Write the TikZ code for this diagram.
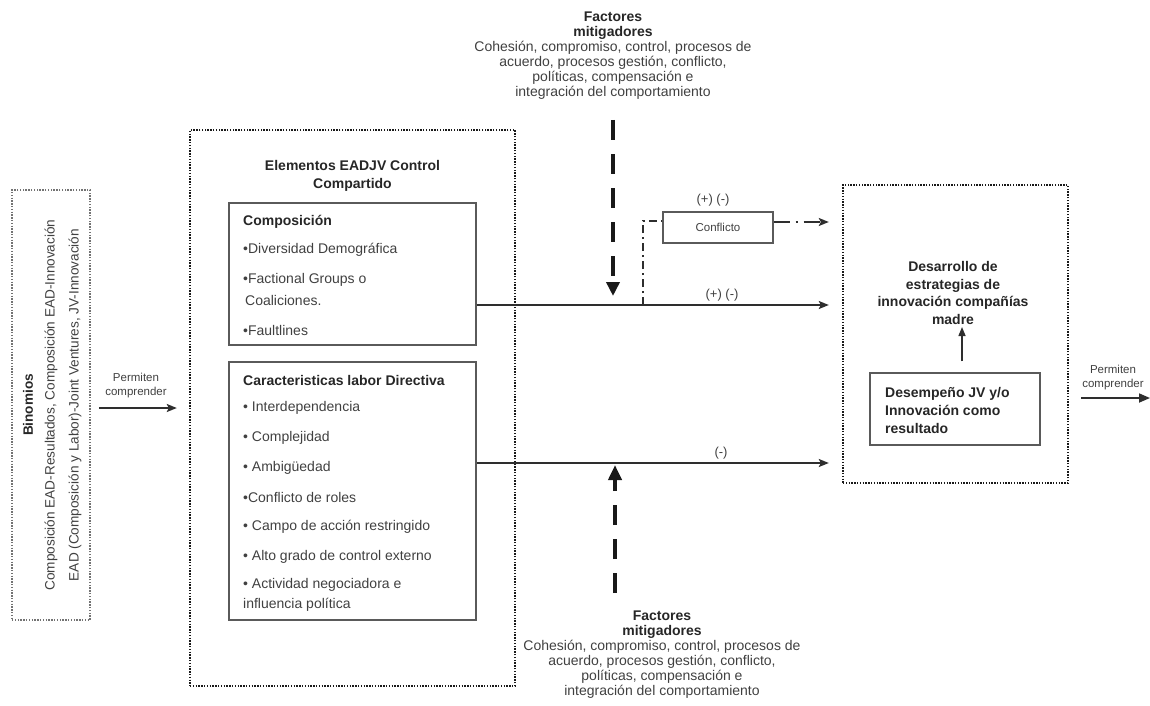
\documentclass[tikz,border=0pt]{standalone}
\usepackage{fontspec}
\setmainfont{Liberation Sans}
\usetikzlibrary{arrows.meta}
\definecolor{txt}{HTML}{404040}
\definecolor{hdc}{HTML}{262626}
\definecolor{boxc}{HTML}{5A5A5A}
\definecolor{linec}{HTML}{2E2E2E}
\begin{document}
\begin{tikzpicture}[x=1pt,y=-1pt,
  every node/.style={text=txt, inner sep=0pt, font=\fontsize{14}{15}\selectfont},
  dotbox/.style={draw=black!90, line width=2.4pt, dash pattern=on 1.4pt off 1.4pt},
  dotboxl/.style={draw=black!55, line width=1.8pt, dash pattern=on 1.4pt off 1.4pt},
  solidbox/.style={draw=boxc, line width=1.4pt},
  conn/.style={draw=linec, line width=1.7pt},
  tipa/.style={-{Stealth[length=10pt,width=8pt,inset=2pt]}},
  tipb/.style={-{Triangle[length=11pt,width=9pt]}},
  mitarrow/.style={draw=black!90, line width=4.5pt, dash pattern=on 20pt off 14pt},
  dashdot/.style={draw=linec, line width=1.6pt, dash pattern=on 8pt off 4pt on 2pt off 4pt},
  dashdotb/.style={draw=linec, line width=1.6pt, dash pattern=on 16pt off 6pt on 2pt off 6pt},
  item/.style={anchor=west},
  hd/.style={font=\bfseries\fontsize{14}{15}\selectfont, text=hdc},
  small/.style={font=\fontsize{11.5}{14}\selectfont},
  sign/.style={font=\fontsize{13}{15}\selectfont}
]
\useasboundingbox (0,0) rectangle (1150,706);

% ---- boxes ----
\node[dotboxl, minimum width=78, minimum height=430] (bin) at (51,405) {};
\node[dotbox, minimum width=325, minimum height=556] (mid) at (352.5,408) {};
\node[solidbox, minimum width=247, minimum height=142] (comp) at (352.5,274) {};
\node[solidbox, minimum width=247, minimum height=258] (carac) at (352.5,491) {};
\node[dotbox, minimum width=225, minimum height=298] (rbox) at (955.5,334) {};
\node[solidbox, minimum width=170, minimum height=72] (desemp) at (955,409) {};
\node[solidbox, minimum width=110, minimum height=31] (conf) at (718,227.5) {};

% ---- Binomios text ----
\node[hd, rotate=90, font=\bfseries\fontsize{13.6}{15}\selectfont] (binT) at (28,405) {Binomios};
\node[rotate=90, font=\fontsize{13.6}{15}\selectfont] (binA) at (51,405) {Composición EAD-Resultados, Composición EAD-Innovación};
\node[rotate=90, font=\fontsize{13.6}{15}\selectfont] (binB) at (75,405) {EAD (Composición y Labor)-Joint Ventures, JV-Innovación};

% ---- middle title ----
\node[hd, align=center, font=\bfseries\fontsize{14}{18}\selectfont] (midT) at (352.5,176) {Elementos EADJV Control\\Compartido};

% ---- Composicion ----
\node[hd, item] (c0) at (243,222) {Composición};
\node[item] (c1) at (243,250) {•Diversidad Demográfica};
\node[item] (c2) at (243,280) {•Factional Groups o};
\node[item] (c3) at (245,300) {Coaliciones.};
\node[item] (c4) at (243,330) {•Faultlines};

% ---- Caracteristicas ----
\node[hd, item] (k0) at (243,380) {Caracteristicas labor Directiva};
\node[item] (k1) at (243,408) {• Interdependencia};
\node[item] (k2) at (243,438) {• Complejidad};
\node[item] (k3) at (243,468) {• Ambigüedad};
\node[item] (k4) at (243,497) {•Conflicto de roles};
\node[item] (k5) at (243,527) {• Campo de acción restringido};
\node[item] (k6) at (243,557) {• Alto grado de control externo};
\node[item] (k7) at (243,585) {• Actividad negociadora e};
\node[item] (k8) at (243,605) {influencia política};

% ---- mitigating factors ----
\node[align=center] (mtop) at (613,56) {\textbf{\color{hdc}Factores}\\\textbf{\color{hdc}mitigadores}\\Cohesión, compromiso, control, procesos de\\acuerdo, procesos gestión, conflicto,\\políticas, compensación e\\integración del comportamiento};
\node[align=center] (mbot) at (662,655) {\textbf{\color{hdc}Factores}\\\textbf{\color{hdc}mitigadores}\\Cohesión, compromiso, control, procesos de\\acuerdo, procesos gestión, conflicto,\\políticas, compensación e\\integración del comportamiento};

% ---- right box text ----
\node[hd, align=center, font=\bfseries\fontsize{14}{17.7}\selectfont] (desT) at (953,293) {Desarrollo de\\estrategias de\\innovación compañías\\madre};
\node[hd, align=left, anchor=west, font=\bfseries\fontsize{14}{18}\selectfont] (desempT) at (885,410) {Desempeño JV y/o\\Innovación como\\resultado};

% ---- small labels ----
\node[small, align=center] (permL) at (136,385.5) {Permiten\\comprender};
\node[small, align=center] (permR) at (1113,377.5) {Permiten\\comprender};
\node[font=\fontsize{11.5}{14}\selectfont] (confT) at (718,227.5) {Conflicto};
\node[sign] (s1) at (713,200) {(+) (-)};
\node[sign] (s2) at (722,295) {(+) (-)};
\node[sign] (s3) at (721,453) {(-)};

% ---- coordinates ----
\coordinate (mtS) at (613,120);
\coordinate (mtE) at (613,296);
\coordinate (mbS) at (615,593);
\coordinate (mbE) at (615,465);
\coordinate (br) at (643,305);
\coordinate (madre) at (962,327);
\coordinate (outR) at (1150,398);

% ---- connectors ----
\draw[conn, tipa, shorten >=13pt] (comp.east |- 0,305) -- (rbox.west |- 0,305);
\draw[conn, tipa, shorten >=13pt] (carac.east |- 0,463) -- (rbox.west |- 0,463);
\draw[dashdot] (br) |- (conf.west |- 0,221);
\draw[dashdotb, tipa, shorten >=13pt] (conf.east |- 0,222) -- (rbox.west |- 0,222);
\draw[mitarrow, -{Triangle[length=14pt,width=13pt]}] (mtS) -- (mtE);
\draw[mitarrow, -{Triangle[length=15pt,width=13pt]}] (mbS) -- (mbE);
\draw[conn, line width=1.4pt, -{Triangle[length=9pt,width=7pt]}, shorten <=11pt] (desemp.north -| madre) -- (madre);
\draw[conn, tipa, shorten <=8pt, shorten >=12pt] (bin.east |- 0,408) -- (mid.west |- 0,408);
\draw[conn, tipb, shorten <=12pt] (rbox.east |- 0,398) -- (outR);
\end{tikzpicture}
\end{document}
